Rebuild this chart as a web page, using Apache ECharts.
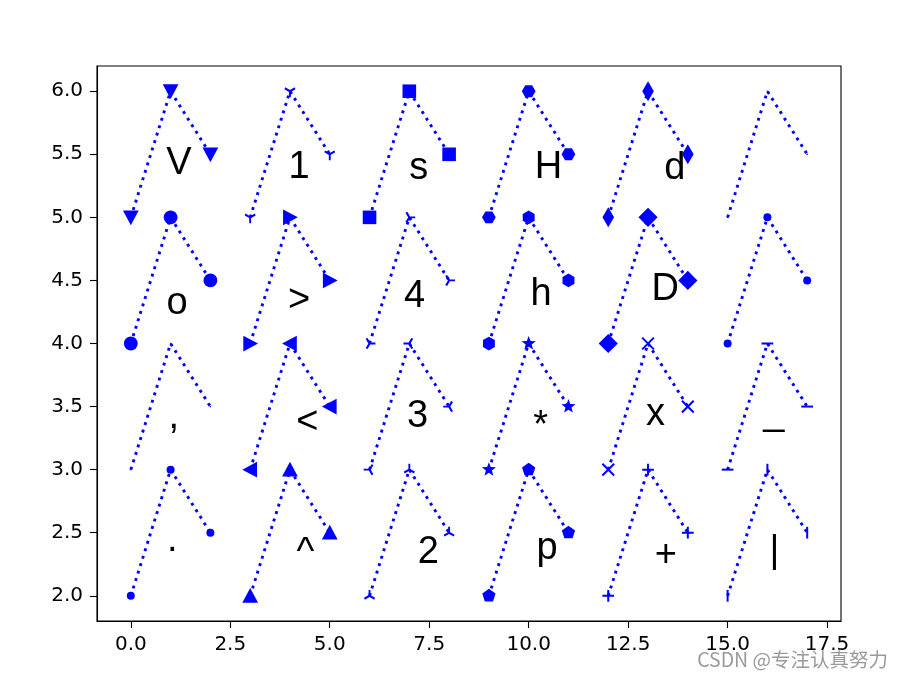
<!DOCTYPE html>
<html><head><meta charset="utf-8">
<script src="https://cdn.jsdelivr.net/npm/echarts@6/dist/echarts.min.js"></script>
<style>html,body{margin:0;padding:0;background:#fff}#c{width:901px;height:684px}</style>
</head><body><div id="c"></div>
<script>
// ---- data ----
const markerNames = ['.', ',', 'o', 'v', '^', '<', '>', '1', '2', '3', '4', 's', 'p', '*', 'h', 'H', '+', 'x', 'D', 'd', '|', '_', 'dot', 'pixel'];
const labelTexts  = ['.', ',', 'o', 'V', '^', '<', '>', '1', '2', '3', '4', 's', 'p', '*', 'h', 'H', '+', 'x', 'D', 'd', '|', '_', '', ''];
const pointsX = [
  [0,1,2],[0,1,2],[0,1,2],[0,1,2],
  [3,4,5],[3,4,5],[3,4,5],[3,4,5],
  [6,7,8],[6,7,8],[6,7,8],[6,7,8],
  [9,10,11],[9,10,11],[9,10,11],[9,10,11],
  [12,13,14],[12,13,14],[12,13,14],[12,13,14],
  [15,16,17],[15,16,17],[15,16,17],[15,16,17]
];
const pointsY = [
  [2,3,2.5],[3,4,3.5],[4,5,4.5],[5,6,5.5],
  [2,3,2.5],[3,4,3.5],[4,5,4.5],[5,6,5.5],
  [2,3,2.5],[3,4,3.5],[4,5,4.5],[5,6,5.5],
  [2,3,2.5],[3,4,3.5],[4,5,4.5],[5,6,5.5],
  [2,3,2.5],[3,4,3.5],[4,5,4.5],[5,6,5.5],
  [2,3,2.5],[3,4,3.5],[4,5,4.5],[5,6,5.5]
];
const labelX = [1.04, 1.08, 1.16, 1.21, 4.39, 4.44, 4.23, 4.23, 7.48, 7.21, 7.13, 7.24,
                10.46, 10.30, 10.31, 10.50, 13.45, 13.19, 13.43, 13.67, 16.18, 16.16, 16.0, 16.0];
const labelY = [2.44, 3.415, 4.32, 5.43, 2.335, 3.375, 4.34, 5.395, 2.34, 3.425, 4.37, 5.385,
                2.375, 3.345, 4.39, 5.395, 2.32, 3.435, 4.425, 5.385, 2.35, 3.445, 4.3, 5.3];
const xTicks = [0, 2.5, 5, 7.5, 10, 12.5, 15, 17.5];
const yTicks = [2, 2.5, 3, 3.5, 4, 4.5, 5, 5.5, 6];
const watermark = 'CSDN @专注认真努力';

// ---- marker styles ----
const BLUE = '#0000ff';
const MS = 11.75, H = MS / 2;
function pathOf(subpaths) {
  let mx = 0, my = 0;
  subpaths.forEach(s => s.pts.forEach(p => { mx = Math.max(mx, Math.abs(p[0])); my = Math.max(my, Math.abs(p[1])); }));
  let d = 'M' + (-mx).toFixed(3) + ',' + (-my).toFixed(3) + 'M' + mx.toFixed(3) + ',' + my.toFixed(3);
  subpaths.forEach(s => {
    d += s.pts.map((p, i) => (i ? 'L' : 'M') + p[0].toFixed(3) + ',' + p[1].toFixed(3)).join('') + (s.close ? 'Z' : '');
  });
  return { symbol: 'path://' + d, size: [2 * mx, 2 * my] };
}
function poly(n, r, startDeg) {
  const pts = [];
  for (let k = 0; k < n; k++) { const a = (startDeg + k * 360 / n) * Math.PI / 180; pts.push([r * Math.cos(a), -r * Math.sin(a)]); }
  return pts;
}
function star(ro, ri) {
  const pts = [];
  for (let k = 0; k < 10; k++) { const r = k % 2 ? ri : ro; const a = (90 + k * 36) * Math.PI / 180; pts.push([r * Math.cos(a), -r * Math.sin(a)]); }
  return pts;
}
function arms(list) { return list.map(p => ({ pts: [[0, 0], p], close: false })); }
const c86 = 0.8660254;
const F = (o) => Object.assign({ filled: true }, o);
const L = (o) => Object.assign({ filled: false }, o);
const markerStyle = {
  '.': F({ symbol: 'circle', size: 8 }),
  ',': F({ symbol: 'rect', size: 1.3 }),
  'o': F({ symbol: 'circle', size: 13.8 }),
  'v': F(pathOf([{ pts: [[0, H + 2], [-(H + 2), -(H + 1)], [H + 2, -(H + 1)]], close: true }])),
  '^': F(pathOf([{ pts: [[0, -(H + 2)], [-(H + 2), H + 1], [H + 2, H + 1]], close: true }])),
  '<': F(pathOf([{ pts: [[-(H + 2), 0], [H + 1, -(H + 2)], [H + 1, H + 2]], close: true }])),
  '>': F(pathOf([{ pts: [[H + 2, 0], [-(H + 1), -(H + 2)], [-(H + 1), H + 2]], close: true }])),
  '1': L(pathOf(arms([[0, H], [c86 * H, -0.5 * H], [-c86 * H, -0.5 * H]]))),
  '2': L(pathOf(arms([[0, -H], [c86 * H, 0.5 * H], [-c86 * H, 0.5 * H]]))),
  '3': L(pathOf(arms([[-H, 0], [0.5 * H, -c86 * H], [0.5 * H, c86 * H]]))),
  '4': L(pathOf(arms([[H, 0], [-0.5 * H, -c86 * H], [-0.5 * H, c86 * H]]))),
  's': F({ symbol: 'rect', size: 13.6 }),
  'p': F(pathOf([{ pts: poly(5, H + 1.1, 90), close: true }])),
  '*': F(pathOf([{ pts: star(H + 1.6, (H + 1.6) * 0.42), close: true }])),
  'h': F(pathOf([{ pts: poly(6, H + 1, 90), close: true }])),
  'H': F(pathOf([{ pts: poly(6, H + 1, 0), close: true }])),
  '+': L(pathOf([{ pts: [[-H, 0], [H, 0]] }, { pts: [[0, -H], [0, H]] }])),
  'x': L(pathOf([{ pts: [[-H, -H], [H, H]] }, { pts: [[-H, H], [H, -H]] }])),
  'D': F(pathOf([{ pts: [[0, -9.6], [9.6, 0], [0, 9.6], [-9.6, 0]], close: true }])),
  'd': F(pathOf([{ pts: [[0, -10], [5.8, 0], [0, 10], [-5.8, 0]], close: true }])),
  '|': F({ symbol: 'rect', size: [2, MS] }),
  '_': F({ symbol: 'rect', size: [MS, 2] }),
  'dot': F({ symbol: 'circle', size: 8 }),
  'pixel': F({ symbol: 'rect', size: 1.3 })
};

// ---- series ----
const series = markerNames.map((m, i) => {
  const st = markerStyle[m];
  return {
    type: 'line',
    data: pointsX[i].map((x, j) => [x, pointsY[i][j]]),
    symbol: st.symbol,
    symbolSize: st.size,
    showSymbol: true,
    showAllSymbol: true,
    lineStyle: { color: BLUE, width: 2.9, type: [2.9, 4.9], cap: 'butt' },
    itemStyle: st.filled ? { color: BLUE, borderWidth: 0 } : { color: BLUE, borderColor: BLUE, borderWidth: 2 },
    emphasis: { disabled: true },
    z: 2,
    animation: false
  };
});
const labelData = [];
labelTexts.forEach((t, i) => { if (t) labelData.push([labelX[i], labelY[i], i]); });
series.push({
  type: 'custom',
  data: labelData,
  renderItem: function (params, api) {
    const p = api.coord([api.value(0), api.value(1)]);
    return {
      type: 'text', x: p[0], y: p[1],
      style: {
        text: labelTexts[api.value(2)], fill: '#000000',
        fontSize: 38, fontFamily: '"Liberation Sans"',
        align: 'center', verticalAlign: 'middle'
      }
    };
  },
  z: 5,
  silent: true,
  animation: false
});

const axisCommon = {
  type: 'value',
  axisLine: { show: true, onZero: false, lineStyle: { color: '#000', width: 1.1 } },
  axisTick: { show: true, length: 7, lineStyle: { color: '#000', width: 1.1 } },
  axisLabel: { color: '#000', fontSize: 20, fontFamily: '"DejaVu Sans"', margin: 14, formatter: v => v.toFixed(1) },
  splitLine: { show: false }
};

const chart = echarts.init(document.getElementById('c'), null, { renderer: 'canvas' });
chart.setOption({
  animation: false,
  backgroundColor: '#fff',
  textStyle: { fontFamily: '"DejaVu Sans"' },
  grid: { left: 97, right: 60, top: 66, bottom: 63, show: true, borderColor: '#000', borderWidth: 1.1, backgroundColor: 'transparent' },
  xAxis: Object.assign({}, axisCommon, {
    min: -0.85, max: 17.85,
    axisTick: Object.assign({}, axisCommon.axisTick, { customValues: xTicks }),
    axisLabel: Object.assign({}, axisCommon.axisLabel, { customValues: xTicks })
  }),
  yAxis: Object.assign({}, axisCommon, {
    min: 1.8, max: 6.2,
    axisTick: Object.assign({}, axisCommon.axisTick, { customValues: yTicks }),
    axisLabel: Object.assign({}, axisCommon.axisLabel, { customValues: yTicks })
  }),
  graphic: [{
    type: 'text', right: 13, top: 650, z: 100,
    style: { text: watermark, fill: '#9a9a9a', fontSize: 19.5, fontFamily: '"Noto Sans CJK SC"' }
  }],
  series: series
});
</script>
</body></html>
